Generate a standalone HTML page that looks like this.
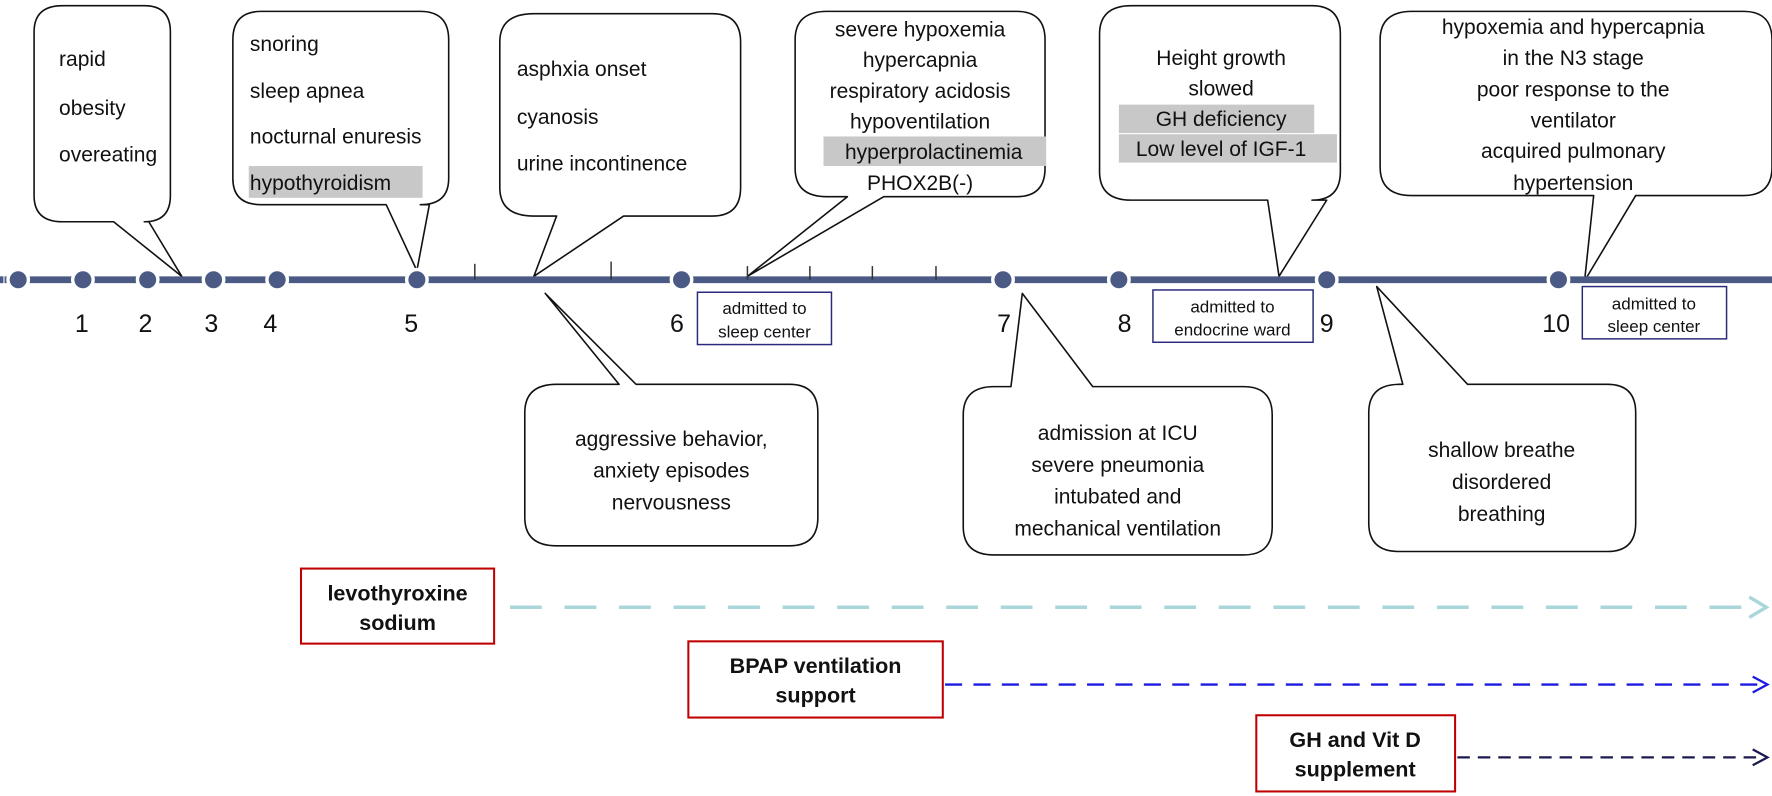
<!DOCTYPE html>
<html><head><meta charset="utf-8"><style>
html,body{margin:0;padding:0;background:#fff}
svg{display:block}
text{font-family:"Liberation Sans",Arial,sans-serif;fill:#111}
</style></head><body>
<svg width="1772" height="796" viewBox="0 0 1560 700" preserveAspectRatio="none" xmlns="http://www.w3.org/2000/svg">
<g fill="#fff" stroke="#111" stroke-width="1.4" stroke-linejoin="round">
<path d="M55,5 H127 Q150,5 150,28 V172 Q150,195 127,195 H131 L160,243 L100,195 H55 Q30,195 30,172 V28 Q30,5 55,5 Z"/>
<path d="M230,10 H370 Q395,10 395,35 V157 Q395,180 370,180 H378 L367,238 L340,180 H230 Q205,180 205,157 V35 Q205,10 230,10 Z"/>
<path d="M470,12 H627 Q652,12 652,37 V165 Q652,190 627,190 H549 L470,243 L490,190 H470 Q440,190 440,165 V37 Q440,12 470,12 Z"/>
<path d="M728,10 H895 Q920,10 920,35 V148 Q920,173 895,173 H778 L658,243 L746,173 H728 Q700,173 700,148 V35 Q700,10 728,10 Z"/>
<path d="M996,5 H1155 Q1180,5 1180,30 V151 Q1180,176 1155,176 H1168 L1126,243 L1116,176 H996 Q968,176 968,151 V30 Q968,5 996,5 Z"/>
<path d="M1243,10 H1535 Q1560,10 1560,35 V147 Q1560,172 1535,172 H1440 L1395,247 L1403,172 H1243 Q1215,172 1215,147 V35 Q1215,10 1243,10 Z"/>
<path d="M490,338 H545 L480,258 L560,338 H695 Q720,338 720,363 V455 Q720,480 695,480 H490 Q462,480 462,455 V363 Q462,338 490,338 Z"/>
<path d="M875,340 H890 L900,258 L962,340 H1095 Q1120,340 1120,365 V463 Q1120,488 1095,488 H875 Q848,488 848,463 V365 Q848,340 875,340 Z"/>
<path d="M1232,338 H1235 L1212,252 L1292,338 H1415 Q1440,338 1440,363 V460 Q1440,485 1415,485 H1232 Q1205,485 1205,460 V363 Q1205,338 1232,338 Z"/>
</g>
<line x1="4" y1="246" x2="1560" y2="246" stroke="#4a5a85" stroke-width="6"/>
<g stroke="#333" stroke-width="1.3">
<line x1="418" y1="232" x2="418" y2="246"/><line x1="538" y1="230" x2="538" y2="246"/>
<line x1="658" y1="234" x2="658" y2="246"/><line x1="713" y1="234" x2="713" y2="246"/>
<line x1="768" y1="234" x2="768" y2="246"/><line x1="824" y1="234" x2="824" y2="246"/>
</g>
<g fill="#4a5a85" stroke="#fff" stroke-width="3">
<circle cx="16" cy="246" r="9"/><circle cx="73" cy="246" r="9"/><circle cx="130" cy="246" r="9"/>
<circle cx="188" cy="246" r="9"/><circle cx="244" cy="246" r="9"/><circle cx="367" cy="246" r="9"/>
<circle cx="600" cy="246" r="9"/><circle cx="883" cy="246" r="9"/><circle cx="985" cy="246" r="9"/>
<circle cx="1168" cy="246" r="9"/><circle cx="1372" cy="246" r="9"/>
</g>
<rect x="0" y="243" width="3" height="6" fill="#4a5a85"/>
<g font-size="22" text-anchor="middle">
<text x="72" y="292">1</text><text x="128" y="292">2</text><text x="186" y="292">3</text>
<text x="238" y="292">4</text><text x="362" y="292">5</text><text x="596" y="292">6</text>
<text x="884" y="292">7</text><text x="990" y="292">8</text><text x="1168" y="292">9</text>
<text x="1370" y="292">10</text>
</g>
<g fill="#fff" stroke="#2a2a7a" stroke-width="1.3">
<rect x="614" y="257" width="118" height="46"/>
<rect x="1015" y="255" width="141" height="46"/>
<rect x="1393" y="252" width="127" height="46"/>
</g>
<g font-size="15" text-anchor="middle">
<text x="673" y="276">admitted to</text><text x="673" y="297">sleep center</text>
<text x="1085" y="275">admitted to</text><text x="1085" y="295">endocrine ward</text>
<text x="1456" y="272">admitted to</text><text x="1456" y="292">sleep center</text>
</g>
<g fill="#c8c8c8">
<rect x="219" y="146" width="153" height="28"/>
<rect x="725" y="120" width="196" height="26"/>
<rect x="985" y="92" width="172" height="25"/>
<rect x="985" y="118" width="192" height="25"/>
</g>
<g font-size="18.5">
<text x="52" y="58">rapid</text><text x="52" y="101">obesity</text><text x="52" y="142">overeating</text>
<text x="220" y="45">snoring</text><text x="220" y="86">sleep apnea</text><text x="220" y="126">nocturnal enuresis</text><text x="220" y="167">hypothyroidism</text>
<text x="455" y="67">asphxia onset</text><text x="455" y="109">cyanosis</text><text x="455" y="150">urine incontinence</text>
</g>
<g font-size="18.5" text-anchor="middle">
<text x="810" y="32">severe hypoxemia</text><text x="810" y="59">hypercapnia</text><text x="810" y="86">respiratory acidosis</text>
<text x="810" y="113">hypoventilation</text><text x="822" y="140">hyperprolactinemia</text><text x="810" y="167">PHOX2B(-)</text>
<text x="1075" y="57">Height growth</text><text x="1075" y="84">slowed</text><text x="1075" y="111">GH deficiency</text><text x="1075" y="137">Low level of IGF-1</text>
<text x="1385" y="30">hypoxemia and hypercapnia</text><text x="1385" y="57">in the N3 stage</text><text x="1385" y="85">poor response to the</text>
<text x="1385" y="112">ventilator</text><text x="1385" y="139">acquired pulmonary</text><text x="1385" y="167">hypertension</text>
<text x="591" y="392">aggressive behavior,</text><text x="591" y="420">anxiety episodes</text><text x="591" y="448">nervousness</text>
<text x="984" y="387">admission at ICU</text><text x="984" y="415">severe pneumonia</text><text x="984" y="443">intubated and</text><text x="984" y="471">mechanical ventilation</text>
<text x="1322" y="402">shallow breathe</text><text x="1322" y="430">disordered</text><text x="1322" y="458">breathing</text>
</g>
<g fill="#fff" stroke="#c00000" stroke-width="1.8">
<rect x="265" y="500" width="170" height="66"/>
<rect x="606" y="564" width="224" height="67"/>
<rect x="1106" y="629" width="175" height="67"/>
</g>
<g font-size="19" font-weight="bold" text-anchor="middle">
<text x="350" y="528">levothyroxine</text><text x="350" y="554">sodium</text>
<text x="718" y="592">BPAP ventilation</text><text x="718" y="618">support</text>
<text x="1193" y="657">GH and Vit D</text><text x="1193" y="683">supplement</text>
</g>
<g fill="none" stroke-linecap="butt">
<line x1="449" y1="534" x2="1550" y2="534" stroke="#a9d6da" stroke-width="3" stroke-dasharray="28,20"/>
<path d="M1540,525 L1555,534 L1540,543" stroke="#a9d6da" stroke-width="3"/>
<line x1="832" y1="602" x2="1553" y2="602" stroke="#1a1ae0" stroke-width="2" stroke-dasharray="15,10"/>
<path d="M1543,595 L1556,602 L1543,609" stroke="#1a1ae0" stroke-width="2"/>
<line x1="1283" y1="666" x2="1553" y2="666" stroke="#1a1a50" stroke-width="2" stroke-dasharray="11,7"/>
<path d="M1543,659 L1556,666 L1543,673" stroke="#1a1a50" stroke-width="2"/>
</g>
</svg>
</body></html>
